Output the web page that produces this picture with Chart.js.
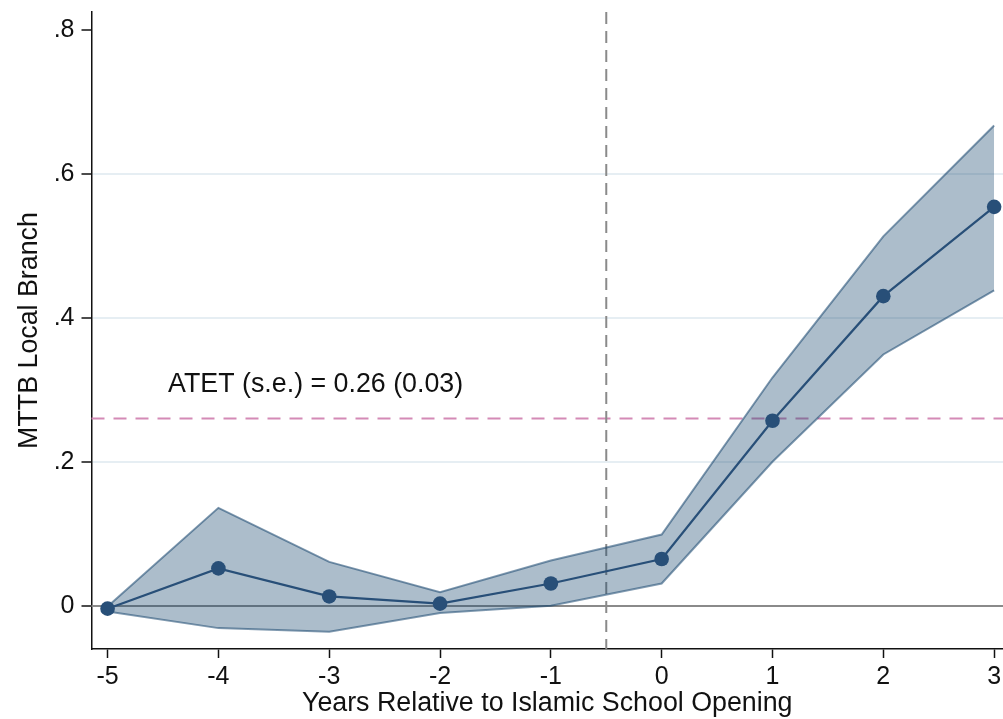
<!DOCTYPE html>
<html>
<head>
<meta charset="utf-8">
<title>MTTB Local Branch event study</title>
<script src="https://cdn.jsdelivr.net/npm/chart.js@4.4.1/dist/chart.umd.min.js"></script>
<style>
  html, body { margin: 0; padding: 0; background: #ffffff; }
  #wrap { width: 1003px; height: 719px; position: relative; }
</style>
</head>
<body>
<div id="wrap"><canvas id="chart" width="1003" height="719"></canvas></div>
<script>
// Event time relative to the opening of an Islamic school
const years = [-5, -4, -3, -2, -1, 0, 1, 2, 3];
// Point estimates and 95% confidence bounds
const estimate = [-0.004, 0.052, 0.013, 0.003, 0.031, 0.065, 0.257, 0.430, 0.554];
const ciUpper  = [-0.001, 0.136, 0.061, 0.019, 0.063, 0.099, 0.317, 0.513, 0.667];
const ciLower  = [-0.008, -0.031, -0.036, -0.010, 0.000, 0.031, 0.200, 0.349, 0.438];
// Y tick values and their labels
const yTickValues = [0, 0.2, 0.4, 0.6, 0.8];
const yTickLabels = ['0', '.2', '.4', '.6', '.8'];
const xTickValues = [-5, -4, -3, -2, -1, 0, 1, 2, 3];
// Reference lines: treatment start, overall ATET, zero
const treatmentLine = -0.5;
const atetValue = 0.26;
const atetLabel = 'ATET (s.e.) = 0.26 (0.03)';
const atetLabelPos = [-4.454, 0.2965];
const zeroLine = 0;

const FONT = '"Liberation Sans", Arial, Helvetica, sans-serif';
const navy = '#284f78';

const pts = arr => years.map((x, i) => ({ x: x, y: arr[i] }));

const refLines = {
  id: 'refLines',
  beforeDatasetsDraw(chart) {
    const { ctx, chartArea: a, scales: { x, y } } = chart;
    ctx.save();
    // zero line
    ctx.strokeStyle = '#8a8a8a';
    ctx.lineWidth = 2;
    ctx.setLineDash([]);
    const y0 = Math.round(y.getPixelForValue(zeroLine));
    ctx.beginPath(); ctx.moveTo(a.left, y0); ctx.lineTo(a.right, y0); ctx.stroke();
    // ATET line
    ctx.strokeStyle = '#d48ab6';
    ctx.setLineDash([13, 9]);
    const ya = y.getPixelForValue(atetValue);
    ctx.beginPath(); ctx.moveTo(a.left, ya); ctx.lineTo(a.right, ya); ctx.stroke();
    // treatment start
    ctx.strokeStyle = '#8a8a8a';
    ctx.setLineDash([12, 7]);
    const xv = x.getPixelForValue(treatmentLine);
    ctx.beginPath(); ctx.moveTo(xv, a.top); ctx.lineTo(xv, a.bottom); ctx.stroke();
    ctx.restore();
  },
  afterDatasetsDraw(chart) {
    const { ctx, scales: { x, y } } = chart;
    ctx.save();
    ctx.fillStyle = '#111111';
    ctx.font = '26.8px ' + FONT;
    ctx.textAlign = 'left';
    ctx.textBaseline = 'alphabetic';
    ctx.fillText(atetLabel, x.getPixelForValue(atetLabelPos[0]), y.getPixelForValue(atetLabelPos[1]));
    ctx.restore();
  }
};

new Chart(document.getElementById('chart'), {
  type: 'line',
  data: {
    datasets: [
      {
        label: 'upper',
        data: pts(ciUpper),
        borderColor: 'rgba(26,71,111,0.55)',
        borderWidth: 2,
        backgroundColor: 'rgba(26,71,111,0.36)',
        pointRadius: 0,
        fill: '+1',
        order: 2
      },
      {
        label: 'lower',
        data: pts(ciLower),
        borderColor: 'rgba(26,71,111,0.55)',
        borderWidth: 2,
        pointRadius: 0,
        fill: false,
        order: 2
      },
      {
        label: 'estimate',
        data: pts(estimate),
        borderColor: navy,
        borderWidth: 2.2,
        pointRadius: 7.3,
        pointBackgroundColor: navy,
        pointBorderColor: navy,
        pointBorderWidth: 0,
        fill: false,
        clip: false,
        order: 0
      }
    ]
  },
  options: {
    responsive: false,
    animation: false,
    devicePixelRatio: 1,
    layout: { autoPadding: false, padding: { top: 12, right: 0, left: 0, bottom: 0 } },
    plugins: { legend: { display: false }, tooltip: { enabled: false } },
    scales: {
      x: {
        type: 'linear',
        min: -5.145,
        max: 3.08,
        afterBuildTicks: s => { s.ticks = xTickValues.map(v => ({ value: v })); },
        afterFit: s => { s.height = 70; s.paddingLeft = 0; s.paddingRight = 0; },
        ticks: {
          color: '#111111',
          font: { family: FONT, size: 25 },
          padding: 4,
          maxRotation: 0,
          callback: v => String(v)
        },
        grid: {
          drawOnChartArea: false,
          tickLength: 9,
          tickColor: '#111111',
          tickWidth: 1.5
        },
        border: { color: '#111111', width: 1.5 },
        title: {
          display: true,
          text: 'Years Relative to Islamic School Opening',
          color: '#111111',
          font: { family: FONT, size: 26.8 },
          padding: { top: 0, bottom: -1 }
        }
      },
      y: {
        type: 'linear',
        min: -0.060,
        max: 0.8246,
        afterBuildTicks: s => { s.ticks = yTickValues.map(v => ({ value: v })); },
        afterFit: s => { s.width = 91.5; s.paddingTop = 0; s.paddingBottom = 0; },
        ticks: {
          color: '#111111',
          font: { family: FONT, size: 25 },
          padding: 7,
          callback: v => yTickLabels[yTickValues.findIndex(t => Math.abs(t - v) < 1e-9)]
        },
        grid: {
          drawOnChartArea: true,
          color: c => (c.tick && c.tick.value > 0.01 && c.tick.value < 0.7) ? '#e6eef3' : 'rgba(0,0,0,0)',
          lineWidth: 2,
          tickLength: 10,
          tickColor: '#111111',
          tickWidth: 1.5
        },
        border: { color: '#111111', width: 1.5 },
        title: {
          display: true,
          text: 'MTTB Local Branch',
          color: '#111111',
          font: { family: FONT, size: 26.8 },
          padding: { top: 14, bottom: 0 }
        }
      }
    }
  },
  plugins: [refLines]
});
</script>
</body>
</html>
